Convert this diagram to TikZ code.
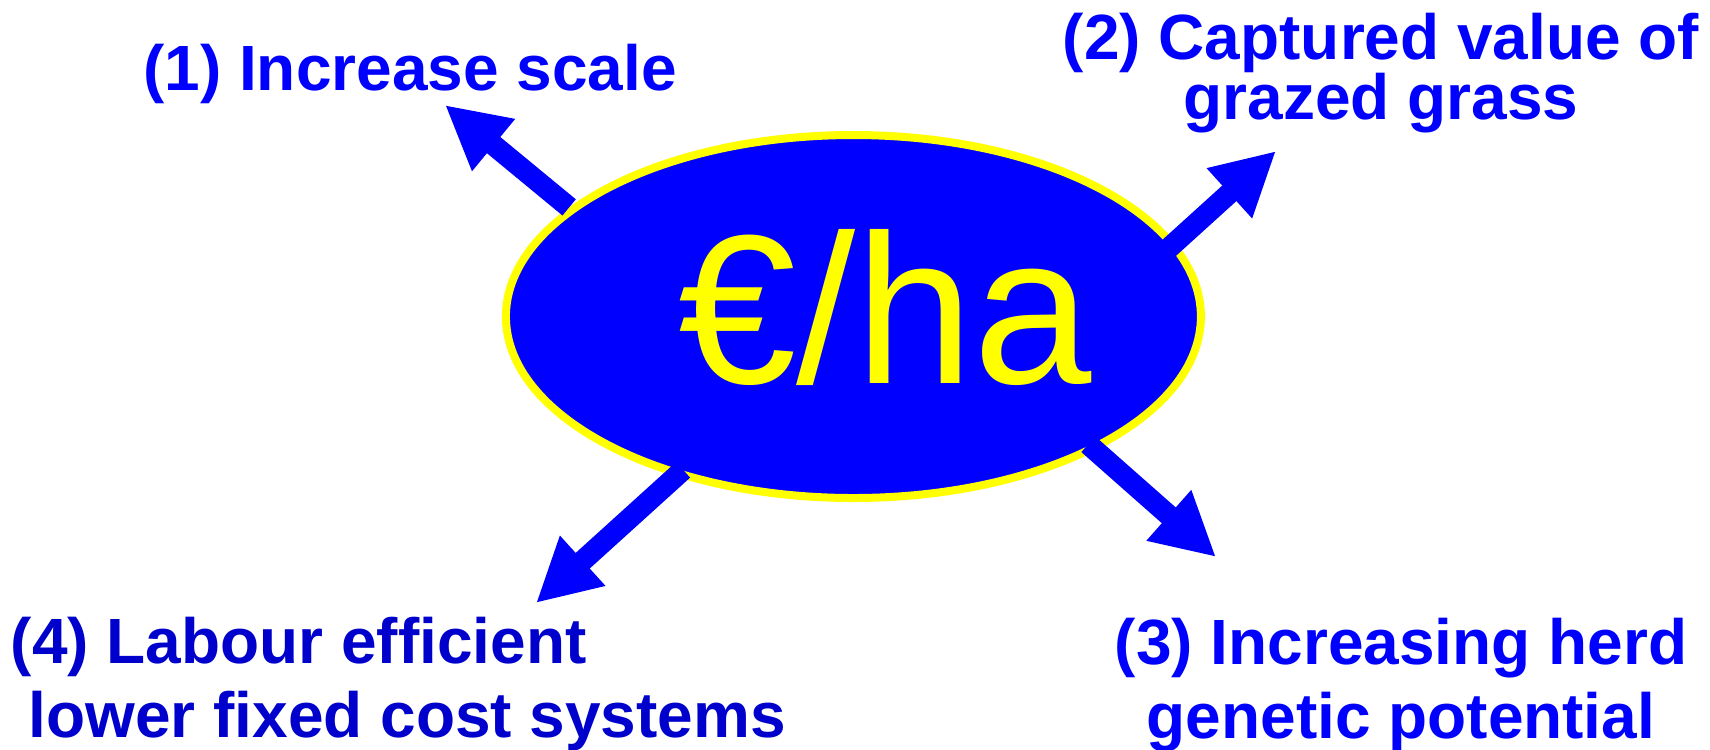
\documentclass[tikz,border=0pt]{standalone}
\usepackage{fontspec}
\setmainfont{Liberation Sans}
\usepackage{tikz}
\usetikzlibrary{positioning,shapes,arrows.meta}
\definecolor{ppblue}{HTML}{0000FF}
\definecolor{ppdark}{HTML}{0000CC}
\definecolor{ppyellow}{HTML}{FFFF00}

\begin{document}
\begin{tikzpicture}[lab/.style={font=\fontsize{18.2}{21}\selectfont\bfseries,text=ppblue,inner sep=0pt},
fat/.style={line width=2.1mm,draw=ppblue,-{Triangle[length=6.3mm,width=6.3mm]}}]
\useasboundingbox (0,0) rectangle (17.10,7.49);
\node[ellipse,draw=ppyellow,fill=ppblue,line width=.8mm,minimum width=6.95cm,minimum
height=3.63cm,inner sep=0pt] (eur) at (8.534,4.325) {}; \node[anchor=base,inner
sep=0pt,text=ppyellow,font=\fontsize{60.5}{70}\selectfont] (eurlbl) at (8.85,3.66) {€/ha};

\node[lab,anchor=base] (scale) at (4.10,6.59) {(1) Increase scale}; \node[lab,anchor=base,align=center,
font={\fontsize{18.2}{16.8}\selectfont\bfseries\setlength\lineskiplimit{-1cm}}] (grass) at (13.81,6.30)
{(2) Captured value of\\grazed grass}; \node[lab,anchor=base,align=center] (herd) at (14.01,0.11) {(3)
Increasing herd\\genetic potential}; \node[lab,anchor=base west,align=left,text=ppdark] (labour) at
(0.10,0.12) {(4) Labour efficient\\\hspace*{.28em}lower fixed cost systems};

\coordinate (t1) at (4.45,6.44); \coordinate (t2) at (12.76,5.98); \coordinate (t3) at
(12.16,1.92); \coordinate (t4) at (5.36,1.46);

\draw[fat] (eur.159.8) -- (t1); \draw[fat,shorten <=-1mm] (eur.13) -- (t2); \draw[fat,shorten
<=-1mm] (eur.331.4) -- (t3); \draw[fat,shorten <=-1mm] (eur.222) -- (t4);
\end{tikzpicture}
\end{document}
